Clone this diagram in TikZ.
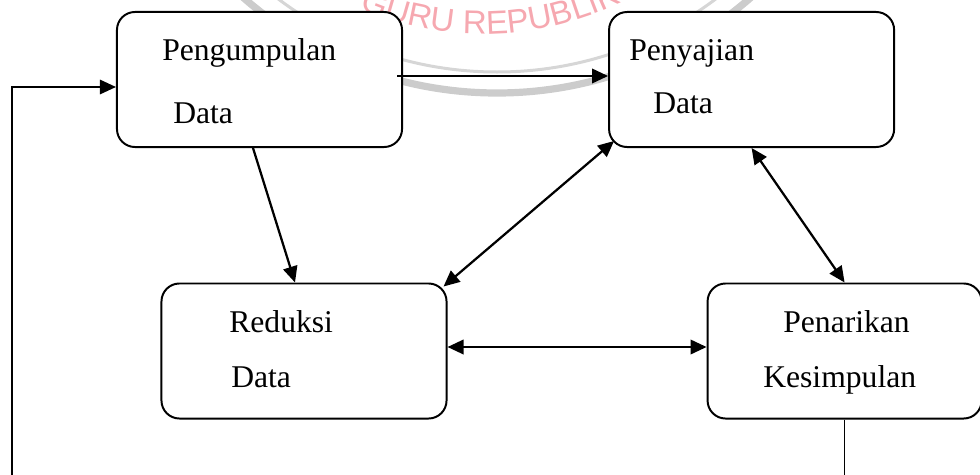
\documentclass[tikz,border=0pt]{standalone}
\usepackage{fontspec}
\setmainfont{Liberation Serif}
\newfontfamily\wmfont{Liberation Sans}
\usepackage{xcolor}
\usepackage{tikz}
\usetikzlibrary{shapes,arrows,arrows.meta,positioning,calc,decorations.text}

\definecolor{wmred}{RGB}{246,168,176}
\definecolor{wmgray}{RGB}{204,204,204}

\begin{document}
\begin{tikzpicture}[x=0.025cm, y=-0.025cm, >={Triangle[length=0.4cm,width=0.36cm]}]
    \tikzstyle{box} = [rectangle, draw=black, fill=white, line width=1.4pt, rounded corners=0.45cm, minimum width=7.125cm, minimum height=3.375cm]
    \tikzstyle{boxtext} = [anchor=base west, inner sep=0pt, font=\fontsize{22.5}{27}\selectfont]
    \tikzstyle{line} = [draw, line width=1.6pt]

    \useasboundingbox (0,0) rectangle (980,474);
    \clip (0,0) rectangle (980,474);

    % watermark behind the boxes
    \coordinate (wm) at (497,-292);
    \coordinate (wmtext) at (483,-282);
    \draw[wmgray, line width=0.18cm] (wm) circle (385);
    \draw[wmgray!80, line width=0.075cm] (wm) circle (364);
    \path[decorate, decoration={text along path, text align=left, text={|\wmfont\fontsize{23.5}{28}\selectfont\color{wmred}|GURU REPUBLIK}}] ($(wmtext)+(113:316)$) arc (113:20:316);

    \node[box] (pengumpulan) at (259.5,79.5) {};
    \node[box, right=5.125cm of pengumpulan] (penyajian) {};
    \node[box] (reduksi) at (304,351) {};
    \node[box, minimum width=6.85cm, right=6.475cm of reduksi] (penarikan) {};

    \node[boxtext] (pengumpulan-1) at (162,60) {Pengumpulan};
    \node[boxtext] (pengumpulan-2) at (173,123) {Data};
    \node[boxtext] (penyajian-1) at (629,60) {Penyajian};
    \node[boxtext] (penyajian-2) at (653,113) {Data};
    \node[boxtext] (reduksi-1) at (229,332) {Reduksi};
    \node[boxtext] (reduksi-2) at (231,387) {Data};
    \node[boxtext] (penarikan-1) at (783,332) {Penarikan};
    \node[boxtext] (penarikan-2) at (763,387) {Kesimpulan};

    \draw[line, ->] ($(pengumpulan.east)+(-6,-3.5)$) -- ($(penyajian.west)+(0,-3.5)$);
    \draw[line, ->] ($(pengumpulan.south)+(-6.5,0)$) -- ($(reduksi.north)+(-9,0)$);
    \draw[line, <->] ($(penyajian.south west)+(6,-7)$) -- ($(reduksi.north east)+(-4,4)$);
    \draw[line, <->] (penyajian.south) -- (penarikan.north);
    \draw[line, <->] ($(reduksi.east)+(0,-4)$) -- ($(penarikan.west)+(0,-4)$);

    % loop back to the start
    \coordinate (loop) at (12,500);
    \draw[line, line width=1.2pt, ->] (penarikan.south) |- (loop) |- ($(pengumpulan.west)+(0,7.5)$);
\end{tikzpicture}
\end{document}
